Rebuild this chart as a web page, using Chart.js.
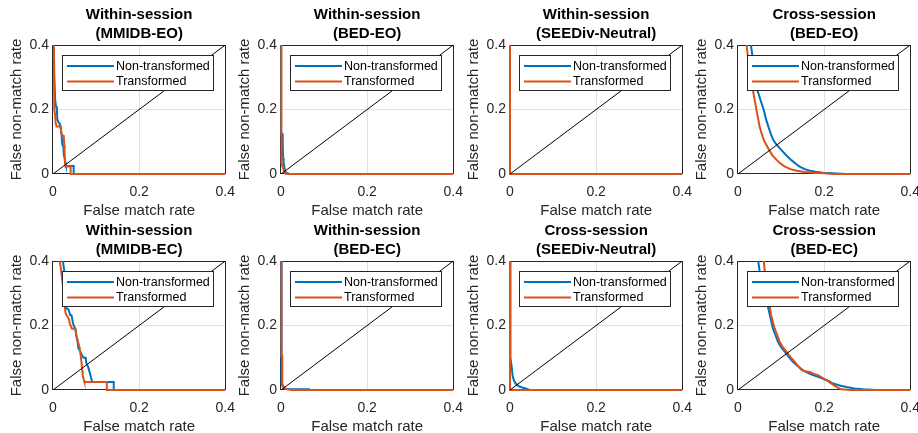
<!DOCTYPE html>
<html>
<head>
<meta charset="utf-8">
<script src="https://cdn.jsdelivr.net/npm/chart.js@4.4.0/dist/chart.umd.min.js"></script>
<style>
  html, body { margin: 0; padding: 0; background: #fff; width: 918px; height: 433px; overflow: hidden; }
  #wrap { position: relative; width: 918px; height: 433px; }
  .panel { position: absolute; width: 245px; height: 222px; }
</style>
</head>
<body>
<div id="wrap"></div>
<script>
/* DET curves: false match rate (x) vs false non-match rate (y), 2 x 4 panels */

const titleTop = ['Within-session', 'Within-session', 'Within-session', 'Cross-session',
                  'Within-session', 'Within-session', 'Cross-session', 'Cross-session'];
const titleSub = ['(MMIDB-EO)', '(BED-EO)', '(SEEDiv-Neutral)', '(BED-EO)',
                  '(MMIDB-EC)', '(BED-EC)', '(SEEDiv-Neutral)', '(BED-EC)'];
const seriesNames = ['Non-transformed', 'Transformed'];
const tickValues = [0, 0.2, 0.4];
const diagonal = [[0, 0], [0.4, 0.4]];

// [FMR, FNMR] pairs
const wsMmidbEoNT = [[0.002,0.4],[0.003,0.3],[0.005,0.23],[0.007,0.21],[0.009,0.2],[0.010,0.17],[0.013,0.16],[0.016,0.155],[0.018,0.14],[0.020,0.12],[0.021,0.1],[0.022,0.09],[0.024,0.085],[0.025,0.06],[0.027,0.05],[0.028,0.035],[0.030,0.025],[0.048,0.025],[0.048,0],[0.4,0]];
const wsMmidbEoT  = [[0.002,0.4],[0.003,0.2],[0.005,0.18],[0.006,0.16],[0.008,0.147],[0.018,0.147],[0.019,0.13],[0.021,0.12],[0.025,0.118],[0.026,0.09],[0.027,0.06],[0.028,0.04],[0.029,0.023],[0.041,0.023],[0.041,0],[0.4,0]];

const wsBedEoNT = [[0,0.4],[0,0.125],[0.003,0.125],[0.004,0.09],[0.005,0.05],[0.006,0.035],[0.008,0.02],[0.010,0.008],[0.013,0.003],[0.02,0],[0.4,0]];
const wsBedEoT  = [[0.001,0.4],[0.001,0.035],[0.004,0.02],[0.008,0.006],[0.012,0],[0.4,0]];

const wsSeedNT = [[0,0.4],[0,0],[0.4,0]];
const wsSeedT  = [[0,0.4],[0,0],[0.4,0]];

const csBedEoNT = [[0.030,0.4],[0.036,0.34],[0.045,0.26],[0.052,0.23],[0.060,0.198],[0.065,0.17],[0.0705,0.147],[0.076,0.125],[0.082,0.105],[0.090,0.09],[0.101,0.074],[0.112,0.058],[0.124,0.043],[0.134,0.032],[0.143,0.023],[0.155,0.015],[0.167,0.010],[0.18,0.007],[0.197,0.004],[0.22,0.002],[0.25,0],[0.4,0]];
const csBedEoT  = [[0.020,0.4],[0.025,0.34],[0.032,0.28],[0.038,0.235],[0.043,0.198],[0.047,0.17],[0.050,0.147],[0.055,0.125],[0.060,0.105],[0.066,0.09],[0.0725,0.074],[0.080,0.058],[0.090,0.043],[0.099,0.032],[0.109,0.023],[0.122,0.015],[0.136,0.010],[0.155,0.006],[0.174,0.004],[0.2,0.002],[0.22,0],[0.4,0]];

const wsMmidbEcNT = [[0.023,0.4],[0.026,0.37],[0.029,0.336],[0.031,0.29],[0.031,0.253],[0.036,0.25],[0.040,0.232],[0.043,0.232],[0.046,0.21],[0.048,0.2],[0.052,0.19],[0.054,0.17],[0.057,0.15],[0.059,0.13],[0.065,0.115],[0.069,0.103],[0.071,0.1],[0.076,0.1],[0.077,0.085],[0.082,0.07],[0.085,0.056],[0.088,0.04],[0.091,0.025],[0.141,0.025],[0.141,0],[0.4,0]];
const wsMmidbEcT  = [[0.0155,0.4],[0.019,0.37],[0.022,0.336],[0.025,0.3],[0.027,0.263],[0.029,0.24],[0.031,0.232],[0.037,0.22],[0.039,0.206],[0.044,0.19],[0.052,0.19],[0.054,0.17],[0.057,0.155],[0.062,0.13],[0.064,0.11],[0.066,0.087],[0.068,0.06],[0.069,0.046],[0.072,0.03],[0.073,0.025],[0.125,0.025],[0.125,0],[0.4,0]];

const wsBedEcNT = [[0,0.4],[0,0.11],[0.002,0.11],[0.002,0.02],[0.004,0.01],[0.008,0.005],[0.015,0.003],[0.065,0.002],[0.065,0],[0.4,0]];
const wsBedEcT  = [[0.001,0.4],[0.001,0.105],[0.003,0.105],[0.003,0.02],[0.006,0.008],[0.012,0.003],[0.025,0],[0.4,0]];

const csSeedNT = [[0,0.4],[0,0.13],[0.002,0.1],[0.004,0.07],[0.006,0.045],[0.009,0.03],[0.013,0.02],[0.02,0.012],[0.03,0.007],[0.04,0.003],[0.045,0],[0.4,0]];
const csSeedT  = [[0,0.4],[0,0],[0.4,0]];

const csBedEcNT = [[0.047,0.4],[0.050,0.37],[0.054,0.336],[0.060,0.30],[0.067,0.273],[0.074,0.232],[0.081,0.191],[0.087,0.17],[0.093,0.149],[0.100,0.133],[0.109,0.118],[0.118,0.102],[0.128,0.087],[0.140,0.073],[0.151,0.061],[0.162,0.053],[0.174,0.046],[0.186,0.041],[0.198,0.035],[0.210,0.028],[0.221,0.020],[0.236,0.014],[0.252,0.009],[0.27,0.005],[0.29,0.002],[0.32,0],[0.4,0]];
const csBedEcT  = [[0.060,0.4],[0.062,0.37],[0.064,0.336],[0.068,0.30],[0.072,0.273],[0.077,0.232],[0.085,0.191],[0.091,0.17],[0.097,0.149],[0.104,0.133],[0.113,0.118],[0.122,0.102],[0.132,0.087],[0.140,0.074],[0.147,0.063],[0.155,0.058],[0.167,0.056],[0.176,0.05],[0.186,0.046],[0.196,0.038],[0.206,0.030],[0.218,0.019],[0.229,0.009],[0.24,0.002],[0.26,0],[0.4,0]];

const panelSeries = [
    [wsMmidbEoNT, wsMmidbEoT], [wsBedEoNT, wsBedEoT], [wsSeedNT, wsSeedT], [csBedEoNT, csBedEoT],
    [wsMmidbEcNT, wsMmidbEcT], [wsBedEcNT, wsBedEcT], [csSeedNT, csSeedT], [csBedEcNT, csBedEcT]
];

const FONT = '"Liberation Sans", Arial, sans-serif';
const INK = '#262626';
const BLUE = '#0072BD';
const ORANGE = '#D95319';

// axes box, legend and two-line title, MATLAB style
const panelDecor = {
    id: 'panelDecor',
    beforeDatasetsDraw(chart) {
        const { ctx, chartArea: a } = chart;
        ctx.save();
        ctx.strokeStyle = INK;
        ctx.lineWidth = 1;
        ctx.strokeRect(Math.round(a.left) - 0.5, Math.round(a.top) + 0.5,
                       Math.round(a.right - a.left) + 1, Math.round(a.bottom - a.top) - 1);
        ctx.restore();
    },
    afterDatasetsDraw(chart) {
        const { ctx, chartArea: a } = chart;
        const lx = Math.round(a.left) + 9, ly = Math.round(a.top) + 10, lw = 151, lh = 35;
        ctx.save();
        ctx.fillStyle = '#fff';
        ctx.fillRect(lx, ly, lw, lh);
        ctx.strokeStyle = INK;
        ctx.lineWidth = 1;
        ctx.strokeRect(lx + 0.5, ly + 0.5, lw, lh);
        [BLUE, ORANGE].forEach((c, i) => {
            const yy = ly + 11 + i * 15.5;
            ctx.strokeStyle = c;
            ctx.lineWidth = 2;
            ctx.beginPath();
            ctx.moveTo(lx + 5, yy);
            ctx.lineTo(lx + 52, yy);
            ctx.stroke();
            ctx.fillStyle = '#000';
            ctx.font = '12.5px ' + FONT;
            ctx.textBaseline = 'middle';
            ctx.textAlign = 'left';
            ctx.fillText(seriesNames[i], lx + 54, yy + 0.5);
        });
        ctx.restore();
    },
    afterDraw(chart, args, opts) {
        const { ctx, chartArea: a } = chart;
        const cx = (a.left + a.right) / 2;
        ctx.save();
        ctx.fillStyle = '#000';
        ctx.font = 'bold 15px ' + FONT;
        ctx.textAlign = 'center';
        ctx.textBaseline = 'middle';
        ctx.fillText(opts.lines[0], cx, 15);
        ctx.fillText(opts.lines[1], cx, 33.5);
        ctx.restore();
    }
};

function makePanel(i) {
    const col = i % 4, row = Math.floor(i / 4);
    const wrap = document.getElementById('wrap');
    const div = document.createElement('div');
    div.className = 'panel';
    div.style.left = Math.round(col * 228.3) + 'px';
    div.style.top = (row * 216) + 'px';
    const canvas = document.createElement('canvas');
    canvas.width = 245;
    canvas.height = 222;
    div.appendChild(canvas);
    wrap.appendChild(div);

    const [nt, tr] = panelSeries[i];
    const lineClip = { left: 2, bottom: 2, top: 0, right: 0 };

    const axis = (title, isX) => ({
        type: 'linear',
        min: 0,
        max: 0.4,
        afterBuildTicks: (s) => { s.ticks = tickValues.map(v => ({ value: v })); },
        afterFit: (s) => { if (isX) s.height = 48; else s.width = 53; },
        border: { display: false },
        grid: {
            drawTicks: false,
            color: (c) => (c.tick && c.tick.value === 0.2) ? '#e0e0e0' : 'rgba(0,0,0,0)'
        },
        ticks: {
            color: INK,
            font: { family: FONT, size: 14 },
            padding: isX ? 10 : 4,
            maxRotation: 0,
            callback: (v) => String(v)
        },
        title: {
            display: true,
            text: title,
            color: INK,
            font: { family: FONT, size: 15 },
            padding: isX ? { top: 0, bottom: 2 } : { top: 8, bottom: 0 }
        }
    });

    new Chart(canvas.getContext('2d'), {
        type: 'scatter',
        data: {
            datasets: [
                { label: 'diag', data: diagonal, borderColor: '#000', borderWidth: 1, order: 0 },
                { label: seriesNames[1], data: tr, borderColor: ORANGE, borderWidth: 2, order: 1, clip: lineClip },
                { label: seriesNames[0], data: nt, borderColor: BLUE, borderWidth: 2, order: 2, clip: lineClip }
            ]
        },
        options: {
            responsive: false,
            animation: false,
            devicePixelRatio: 1,
            showLine: true,
            elements: { point: { radius: 0, hoverRadius: 0 }, line: { tension: 0, fill: false } },
            layout: { padding: { top: 45, left: 0, right: 19, bottom: 0 } },
            plugins: {
                legend: { display: false },
                tooltip: { enabled: false },
                title: { display: false },
                panelDecor: { lines: [titleTop[i], titleSub[i]] }
            },
            scales: {
                x: axis('False match rate', true),
                y: axis('False non-match rate', false)
            }
        },
        plugins: [panelDecor]
    });
}

for (let i = 0; i < 8; i++) makePanel(i);
</script>
</body>
</html>
